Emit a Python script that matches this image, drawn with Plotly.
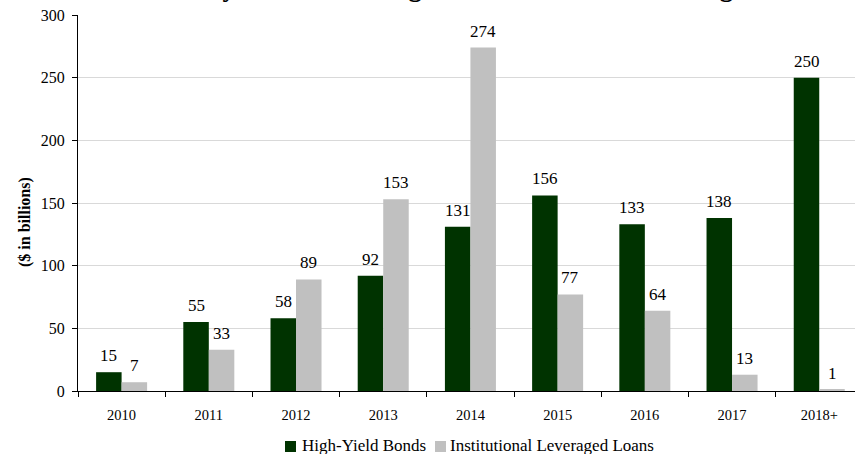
import plotly.graph_objects as go

# Maturity amounts by year ($ in billions)
years = ["2010", "2011", "2012", "2013", "2014", "2015", "2016", "2017", "2018+"]
high_yield_bonds = [15, 55, 58, 92, 131, 156, 133, 138, 250]
leveraged_loans = [7, 33, 89, 153, 274, 77, 64, 13, 1]
y_ticks = [0, 50, 100, 150, 200, 250, 300]
series_names = ["High-Yield Bonds", "Institutional Leveraged Loans"]

SERIF = "Liberation Serif, Times New Roman, serif"
GREEN = "#003300"
GRAY = "#C0C0C0"

# plot area in pixels
L, T, W, H = 78, 15, 777, 376
BOTTOM = T + H


def px_x(p):
    return (p - L) / W


def px_y(p):
    return (BOTTOM - p) / H


fig = go.Figure()
for name, vals, color in [(series_names[0], high_yield_bonds, GREEN),
                          (series_names[1], leveraged_loans, GRAY)]:
    fig.add_trace(go.Bar(
        x=years, y=vals, name=name,
        marker=dict(color=color, line=dict(width=0)),
        showlegend=False,
    ))

# value labels above each bar, offset to the bar's slot within the group
# (x given as category index so numeric-looking year names stay categorical)
slot = 12.75
annotations = []
for vals, shift in [(high_yield_bonds, -slot), (leveraged_loans, slot)]:
    for i, v in enumerate(vals):
        annotations.append(dict(
            x=i, y=v, xref="x", yref="y", text=str(v), showarrow=False,
            xanchor="center", yanchor="bottom", xshift=shift, yshift=5,
            font=dict(family=SERIF, size=17, color="black"),
        ))

# chart title (sits at the very top edge)
annotations.append(dict(
    text="<b>Maturity Schedule of High-Yield Bonds and Leveraged Loans</b>",
    xref="paper", yref="paper", x=px_x(484), y=px_y(4),
    xanchor="center", yanchor="bottom", showarrow=False,
    font=dict(family=SERIF, size=26.7, color="black"),
))

# y-axis title
annotations.append(dict(
    text="<b>($ in billions)</b>", textangle=-90,
    xref="paper", yref="paper", x=px_x(25), y=px_y(222),
    xanchor="center", yanchor="middle", showarrow=False,
    font=dict(family=SERIF, size=16, color="black"),
))

# legend: swatch + label per series
legend_items = [(285, 300, GREEN, series_names[0]), (435, 448, GRAY, series_names[1])]
shapes = []
for sx, tx, color, label in legend_items:
    shapes.append(dict(
        type="rect", xref="paper", yref="paper",
        x0=px_x(sx), x1=px_x(sx + 11), y0=px_y(452), y1=px_y(441),
        fillcolor=color, line=dict(width=0),
    ))
    annotations.append(dict(
        text=label, xref="paper", yref="paper", x=px_x(tx), y=px_y(445),
        xanchor="left", yanchor="middle", showarrow=False,
        font=dict(family=SERIF, size=17, color="black"),
    ))

fig.update_layout(
    width=855, height=454,
    margin=dict(l=L, r=0, t=T, b=454 - BOTTOM),
    paper_bgcolor="white", plot_bgcolor="white",
    barmode="group", bargap=0.415, bargroupgap=0,
    font=dict(family=SERIF, size=15, color="black"),
    showlegend=False,
    xaxis=dict(
        type="category", range=[-0.5, 8.41],
        showline=True, linecolor="black", linewidth=1,
        ticks="outside", tickson="boundaries", ticklen=5, tickcolor="black",
        showgrid=False, tickfont=dict(family=SERIF, size=14.5),
        ticklabelstandoff=11,
    ),
    yaxis=dict(
        range=[0, 300], tickvals=y_ticks,
        showline=True, linecolor="black", linewidth=1,
        ticks="outside", ticklen=5, tickcolor="black",
        showgrid=True, gridcolor="#D9D9D9", gridwidth=1,
        zeroline=False, tickfont=dict(family=SERIF, size=16),
        ticklabelstandoff=4,
    ),
    shapes=shapes,
    annotations=annotations,
)

fig.write_html("out.html")
